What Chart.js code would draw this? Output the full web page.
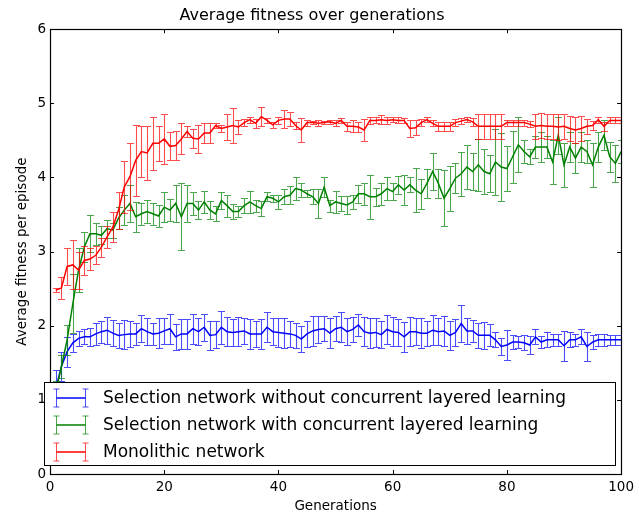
<!DOCTYPE html>
<html>
<head>
<meta charset="utf-8">
<script src="https://cdn.jsdelivr.net/npm/chart.js@4.4.1/dist/chart.umd.min.js"></script>
<style>
html, body { margin: 0; padding: 0; background: #fff; }
</style>
</head>
<body>
<canvas id="myChart" width="639" height="515"></canvas>
<script>
var generations = [1,2,3,4,5,6,7,8,9,10,11,12,13,14,15,16,17,18,19,20,
  21,22,23,24,25,26,27,28,29,30,31,32,33,34,35,36,37,38,39,40,
  41,42,43,44,45,46,47,48,49,50,51,52,53,54,55,56,57,58,59,60,
  61,62,63,64,65,66,67,68,69,70,71,72,73,74,75,76,77,78,79,80,
  81,82,83,84,85,86,87,88,89,90,91,92,93,94,95,96,97,98,99,100];

var seriesNames = [
  'Selection network without concurrent layered learning',
  'Selection network with concurrent layered learning',
  'Monolithic network'
];

// selection network without concurrent layered learning
var withoutMean = [1.15,1.45,1.65,1.77,1.83,1.85,1.85,1.89,1.92,1.94,
  1.90,1.87,1.88,1.89,1.89,1.96,1.92,1.89,1.90,1.93,
  1.96,1.85,1.89,1.89,1.96,1.92,1.98,1.87,1.88,1.98,
  1.92,1.91,1.92,1.93,1.89,1.89,1.89,1.98,1.92,1.91,
  1.90,1.89,1.87,1.82,1.89,1.93,1.95,1.96,1.90,1.96,
  1.98,1.92,1.95,2.01,1.92,1.90,1.91,1.88,1.95,1.92,
  1.91,1.85,1.92,1.92,1.90,1.90,1.94,1.92,1.93,1.87,
  1.91,2.03,1.93,1.93,1.87,1.87,1.87,1.81,1.72,1.74,
  1.78,1.78,1.77,1.74,1.85,1.78,1.81,1.81,1.81,1.73,
  1.81,1.81,1.85,1.72,1.78,1.81,1.81,1.81,1.81,1.81];
var withoutErr = [0.25,0.20,0.20,0.12,0.10,0.10,0.12,0.15,0.15,0.18,
  0.18,0.17,0.20,0.18,0.15,0.18,0.18,0.15,0.20,0.18,
  0.20,0.18,0.20,0.20,0.20,0.18,0.18,0.20,0.18,0.22,
  0.20,0.18,0.20,0.17,0.20,0.18,0.20,0.20,0.18,0.20,
  0.20,0.18,0.17,0.17,0.18,0.20,0.18,0.17,0.20,0.17,
  0.20,0.18,0.17,0.15,0.20,0.20,0.20,0.18,0.20,0.20,
  0.18,0.20,0.20,0.18,0.20,0.17,0.20,0.18,0.20,0.20,
  0.18,0.25,0.18,0.15,0.17,0.18,0.15,0.10,0.12,0.20,
  0.10,0.08,0.10,0.12,0.10,0.08,0.10,0.08,0.08,0.20,
  0.10,0.08,0.10,0.20,0.10,0.08,0.08,0.07,0.07,0.07];

// selection network with concurrent layered learning
var withMean = [1.10,1.45,1.81,2.30,2.75,3.06,3.24,3.24,3.22,3.31,
  3.29,3.45,3.56,3.65,3.47,3.51,3.54,3.51,3.48,3.60,
  3.56,3.65,3.47,3.65,3.65,3.56,3.67,3.56,3.51,3.69,
  3.62,3.54,3.54,3.62,3.67,3.62,3.58,3.74,3.72,3.67,
  3.74,3.76,3.85,3.83,3.78,3.74,3.65,3.87,3.62,3.67,
  3.65,3.63,3.67,3.78,3.78,3.74,3.74,3.78,3.85,3.81,
  3.90,3.83,3.90,3.83,3.78,3.92,4.08,3.92,3.72,3.85,
  3.99,4.05,4.14,4.08,4.17,4.08,4.05,4.21,4.14,4.12,
  4.28,4.44,4.35,4.28,4.41,4.41,4.41,4.21,4.57,4.17,
  4.41,4.26,4.41,4.35,4.17,4.41,4.57,4.28,4.19,4.35];
var withErr = [0.15,0.15,0.20,0.40,0.30,0.20,0.25,0.15,0.12,0.12,
  0.10,0.15,0.20,0.25,0.20,0.15,0.15,0.15,0.15,0.20,
  0.15,0.25,0.45,0.25,0.15,0.12,0.15,0.12,0.10,0.12,
  0.15,0.10,0.08,0.10,0.15,0.08,0.10,0.06,0.05,0.10,
  0.10,0.12,0.15,0.10,0.05,0.10,0.20,0.13,0.08,0.15,
  0.10,0.12,0.10,0.12,0.15,0.30,0.12,0.15,0.15,0.12,
  0.12,0.20,0.10,0.30,0.20,0.20,0.25,0.20,0.38,0.30,
  0.20,0.30,0.30,0.25,0.35,0.30,0.25,0.45,0.46,0.30,
  0.35,0.37,0.15,0.10,0.15,0.20,0.15,0.30,0.25,0.30,
  0.20,0.20,0.20,0.15,0.30,0.20,0.20,0.20,0.25,0.15];

// monolithic network
var monoMean = [2.48,2.51,2.80,2.82,2.75,2.88,2.90,2.95,3.06,3.20,
  3.33,3.56,3.87,4.01,4.23,4.35,4.33,4.46,4.46,4.52,
  4.42,4.43,4.52,4.62,4.53,4.52,4.60,4.60,4.70,4.66,
  4.68,4.70,4.68,4.74,4.78,4.73,4.82,4.77,4.71,4.77,
  4.79,4.79,4.70,4.64,4.74,4.74,4.73,4.74,4.75,4.73,
  4.77,4.69,4.69,4.68,4.64,4.77,4.77,4.78,4.77,4.78,
  4.77,4.77,4.66,4.67,4.74,4.78,4.73,4.69,4.69,4.69,
  4.74,4.76,4.78,4.75,4.69,4.69,4.69,4.69,4.69,4.74,
  4.74,4.74,4.74,4.72,4.69,4.70,4.69,4.69,4.68,4.69,
  4.66,4.64,4.66,4.69,4.70,4.78,4.69,4.77,4.77,4.77];
var monoErr = [0.03,0.15,0.25,0.33,0.25,0.20,0.15,0.12,0.13,0.15,
  0.20,0.25,0.35,0.45,0.48,0.35,0.36,0.36,0.24,0.34,
  0.19,0.20,0.21,0.07,0.13,0.19,0.13,0.13,0.03,0.05,
  0.17,0.24,0.10,0.05,0.04,0.06,0.13,0.03,0.04,0.05,
  0.12,0.09,0.05,0.16,0.04,0.02,0.04,0.02,0.03,0.04,
  0.03,0.06,0.08,0.07,0.15,0.05,0.04,0.06,0.05,0.03,
  0.04,0.03,0.12,0.10,0.05,0.03,0.04,0.06,0.06,0.06,
  0.05,0.04,0.03,0.05,0.17,0.17,0.17,0.17,0.17,0.04,
  0.04,0.04,0.04,0.04,0.17,0.17,0.17,0.17,0.17,0.17,
  0.17,0.17,0.17,0.10,0.06,0.04,0.06,0.04,0.04,0.04];

function points(values) {
  return generations.map(function (g, i) { return { x: g, y: values[i] }; });
}

Chart.defaults.font.family = "'DejaVu Sans', sans-serif";
Chart.defaults.color = '#000';

// matplotlib style error bars, drawn under each line
var errorBars = {
  id: 'errorBars',
  beforeDatasetDraw: function (chart, args) {
    var ds = chart.data.datasets[args.index];
    var xs = chart.scales.x, ys = chart.scales.y, area = chart.chartArea;
    var ctx = chart.ctx;
    ctx.save();
    ctx.beginPath();
    ctx.rect(area.left, area.top, area.right - area.left, area.bottom - area.top);
    ctx.clip();
    ctx.strokeStyle = ds.errorColor;
    ctx.lineWidth = 1.1;
    ctx.beginPath();
    ds.data.forEach(function (p, i) {
      var px = Math.round(xs.getPixelForValue(p.x)) + 0.5;
      var top = Math.round(ys.getPixelForValue(p.y + ds.errors[i])) + 0.5;
      var bot = Math.round(ys.getPixelForValue(p.y - ds.errors[i])) + 0.5;
      ctx.moveTo(px, top); ctx.lineTo(px, bot);
      ctx.moveTo(px - 3.5, top); ctx.lineTo(px + 3.5, top);
      ctx.moveTo(px - 3.5, bot); ctx.lineTo(px + 3.5, bot);
    });
    ctx.stroke();
    ctx.restore();
  }
};

// frame with inward ticks and the boxed legend inside the plot
var frameAndLegend = {
  id: 'frameAndLegend',
  afterDraw: function (chart) {
    var ctx = chart.ctx, a = chart.chartArea;
    var xs = chart.scales.x, ys = chart.scales.y;
    ctx.save();
    ctx.strokeStyle = '#000';
    ctx.lineWidth = 1.2;
    ctx.strokeRect(Math.round(a.left) + 0.5, Math.round(a.top) + 0.5,
      Math.round(a.right - a.left), Math.round(a.bottom - a.top));
    ctx.lineWidth = 1;
    ctx.beginPath();
    xs.ticks.forEach(function (t) {
      var px = Math.round(xs.getPixelForValue(t.value)) + 0.5;
      ctx.moveTo(px, a.bottom); ctx.lineTo(px, a.bottom - 4);
      ctx.moveTo(px, a.top); ctx.lineTo(px, a.top + 4);
    });
    ys.ticks.forEach(function (t) {
      var py = Math.round(ys.getPixelForValue(t.value)) + 0.5;
      ctx.moveTo(a.left, py); ctx.lineTo(a.left + 4, py);
      ctx.moveTo(a.right, py); ctx.lineTo(a.right - 4, py);
    });
    ctx.stroke();

    // legend
    var bx = 44.5, by = 382.5, bw = 571, bh = 83;
    ctx.fillStyle = '#fff';
    ctx.fillRect(bx, by, bw, bh);
    ctx.strokeRect(bx, by, bw, bh);
    ctx.font = "17px 'DejaVu Sans'";
    ctx.textBaseline = 'middle';
    chart.data.datasets.forEach(function (ds, i) {
      var cy = 398 + i * 27;
      var x1 = 56.5, x2 = 85.5;
      ctx.strokeStyle = ds.errorColor;
      ctx.beginPath();
      [x1, x2].forEach(function (x) {
        ctx.moveTo(x, cy - 9); ctx.lineTo(x, cy + 9);
        ctx.moveTo(x - 3, cy - 9); ctx.lineTo(x + 3, cy - 9);
        ctx.moveTo(x - 3, cy + 9); ctx.lineTo(x + 3, cy + 9);
      });
      ctx.stroke();
      ctx.strokeStyle = ds.borderColor;
      ctx.lineWidth = 1.5;
      ctx.beginPath();
      ctx.moveTo(x1, cy); ctx.lineTo(x2, cy);
      ctx.stroke();
      ctx.lineWidth = 1;
      ctx.fillStyle = '#000';
      ctx.fillText(ds.label, 103, cy + 1);
    });
    ctx.restore();
  }
};

new Chart('myChart', {
  type: 'line',
  data: {
    datasets: [
      { label: seriesNames[0], data: points(withoutMean), errors: withoutErr,
        borderColor: '#0000ff', errorColor: 'rgba(0,0,255,0.7)', order: 2 },
      { label: seriesNames[1], data: points(withMean), errors: withErr,
        borderColor: '#008000', errorColor: 'rgba(0,128,0,0.7)', order: 1 },
      { label: seriesNames[2], data: points(monoMean), errors: monoErr,
        borderColor: '#ff0000', errorColor: 'rgba(255,0,0,0.7)', order: 0 }
    ]
  },
  options: {
    responsive: false,
    animation: false,
    layout: { padding: { left: 0, right: 15, top: 0, bottom: 0 } },
    elements: {
      line: { borderWidth: 1.5, tension: 0, fill: false },
      point: { radius: 0 }
    },
    plugins: {
      legend: { display: false },
      tooltip: { enabled: false },
      title: {
        display: true,
        text: 'Average fitness over generations',
        font: { size: 16, weight: 'normal' },
        color: '#000',
        padding: { top: 6, bottom: 4 }
      }
    },
    scales: {
      x: {
        type: 'linear', min: 0, max: 100,
        ticks: { stepSize: 20, padding: 5, font: { size: 13.5 }, maxRotation: 0 },
        grid: { display: false, drawTicks: false },
        border: { display: false },
        title: { display: true, text: 'Generations', font: { size: 13.5 }, padding: { top: 0, bottom: 0 } },
        afterFit: function (s) { s.height = 41; }
      },
      y: {
        min: 0, max: 6,
        ticks: { stepSize: 1, padding: 4, font: { size: 13.5 } },
        grid: { display: false, drawTicks: false },
        border: { display: false },
        title: { display: true, text: 'Average fitness per episode', font: { size: 13.5 }, padding: { top: 14, bottom: 0 } },
        afterFit: function (s) { s.width = 50; }
      }
    }
  },
  plugins: [errorBars, frameAndLegend]
});
</script>
</body>
</html>
